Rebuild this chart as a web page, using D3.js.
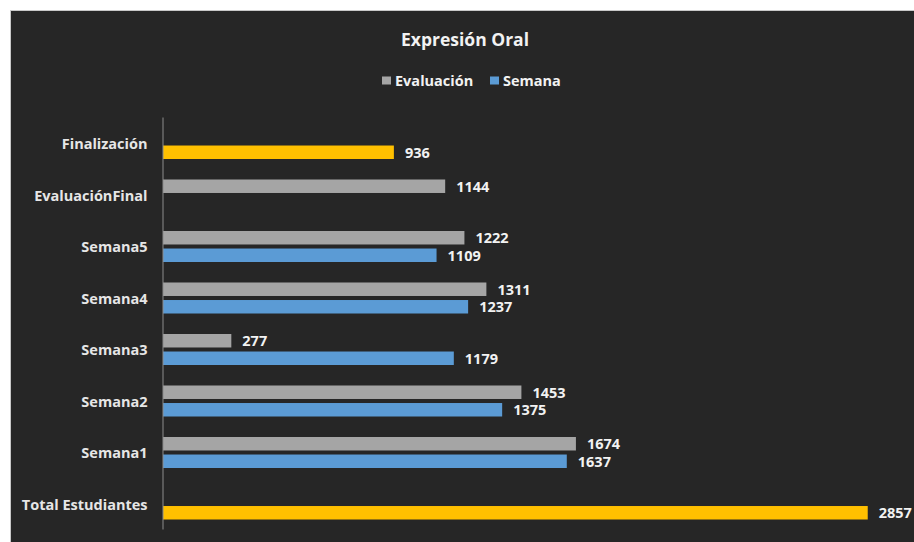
<!DOCTYPE html>
<html>
<head>
<meta charset="utf-8">
<script src="https://cdn.jsdelivr.net/npm/d3@7"></script>
<style>
  html, body { margin: 0; padding: 0; background: #ffffff; }
  svg { display: block; font-family: "Open Sans", sans-serif; font-weight: bold; }
</style>
</head>
<body>
<script>
//chart data, top category first
var categories = ["Finalización", "EvaluaciónFinal", "Semana5", "Semana4", "Semana3", "Semana2", "Semana1", "Total Estudiantes"];
var seriesNames = ["Evaluación", "Semana"];
var evaluacion = [null, 1144, 1222, 1311, 277, 1453, 1674, null];
var semana = [936, null, 1109, 1237, 1179, 1375, 1637, 2857];
var highlighted = ["Finalización", "Total Estudiantes"]; //points drawn in yellow

//colours
var colors = {"Evaluación": "#a5a5a5", "Semana": "#5b9bd5"},
    highlightColor = "#ffc000";

var width = 914,
    height = 542;

var svg = d3.select("body")
    .append("svg")
    .attr("width", width)
    .attr("height", height);

//dark chart area with thin border
svg.append("rect")
    .attr("x", 10.5)
    .attr("y", 10.5)
    .attr("width", width)
    .attr("height", height)
    .attr("fill", "#262626")
    .attr("stroke", "#c8c8c8")
    .attr("stroke-width", 1);

//scales
var x = d3.scaleLinear()
    .domain([0, 3000])
    .range([163, 903]);

var y = d3.scaleBand()
    .domain(categories)
    .range([117, 529]);

var ySub = d3.scaleBand()
    .domain(seriesNames)
    .range([11, 42])
    .paddingInner(0.23);

//flatten data into bar records
var bars = [];
categories.forEach(function(cat, i){
    [evaluacion, semana].forEach(function(values, s){
        if (values[i] == null) return;
        bars.push({
            cat: cat,
            series: seriesNames[s],
            value: values[i]
        });
    });
});

//title
svg.append("text")
    .attr("x", 465)
    .attr("y", 39)
    .attr("text-anchor", "middle")
    .attr("dominant-baseline", "central")
    .attr("fill", "#f2f2f2")
    .style("font-size", "17.5px")
    .text("Expresión Oral");

//legend
var legendX = [382, 490];
var legend = svg.selectAll(".legend")
    .data(seriesNames)
    .enter()
    .append("g")
    .attr("class", "legend")
    .attr("transform", function(d, i){ return "translate(" + legendX[i] + ",80.5)"; });

legend.append("rect")
    .attr("x", 0)
    .attr("y", -4)
    .attr("width", 9)
    .attr("height", 8)
    .attr("fill", function(d){ return colors[d]; });

legend.append("text")
    .attr("x", 13)
    .attr("y", 0)
    .attr("dominant-baseline", "central")
    .attr("fill", "#f2f2f2")
    .style("font-size", "14.5px")
    .text(function(d){ return d; });

//bars
svg.selectAll(".bar")
    .data(bars)
    .enter()
    .append("rect")
    .attr("class", "bar")
    .attr("x", x(0))
    .attr("y", function(d){ return y(d.cat) + ySub(d.series); })
    .attr("width", function(d){ return x(d.value) - x(0); })
    .attr("height", ySub.bandwidth())
    .attr("fill", function(d){
        return highlighted.indexOf(d.cat) >= 0 ? highlightColor : colors[d.series];
    });

//value labels
svg.selectAll(".value")
    .data(bars)
    .enter()
    .append("text")
    .attr("class", "value")
    .attr("x", function(d){ return x(d.value) + 11; })
    .attr("y", function(d){ return y(d.cat) + ySub(d.series) + ySub.bandwidth() / 2; })
    .attr("dominant-baseline", "central")
    .attr("fill", "#f2f2f2")
    .style("font-size", "14.5px")
    .text(function(d){ return d.value; });

//category axis
var axis = svg.append("g")
    .attr("transform", "translate(162.5,0)")
    .call(d3.axisLeft(y).tickSize(0).tickPadding(15));

axis.select(".domain")
    .attr("stroke", "#8c8c8c");

axis.selectAll(".tick text")
    .attr("dy", "0.45em")
    .attr("fill", "#e6e6e6")
    .style("font-family", "'Open Sans', sans-serif")
    .style("font-weight", "bold")
    .style("font-size", "14.5px");
</script>
</body>
</html>
